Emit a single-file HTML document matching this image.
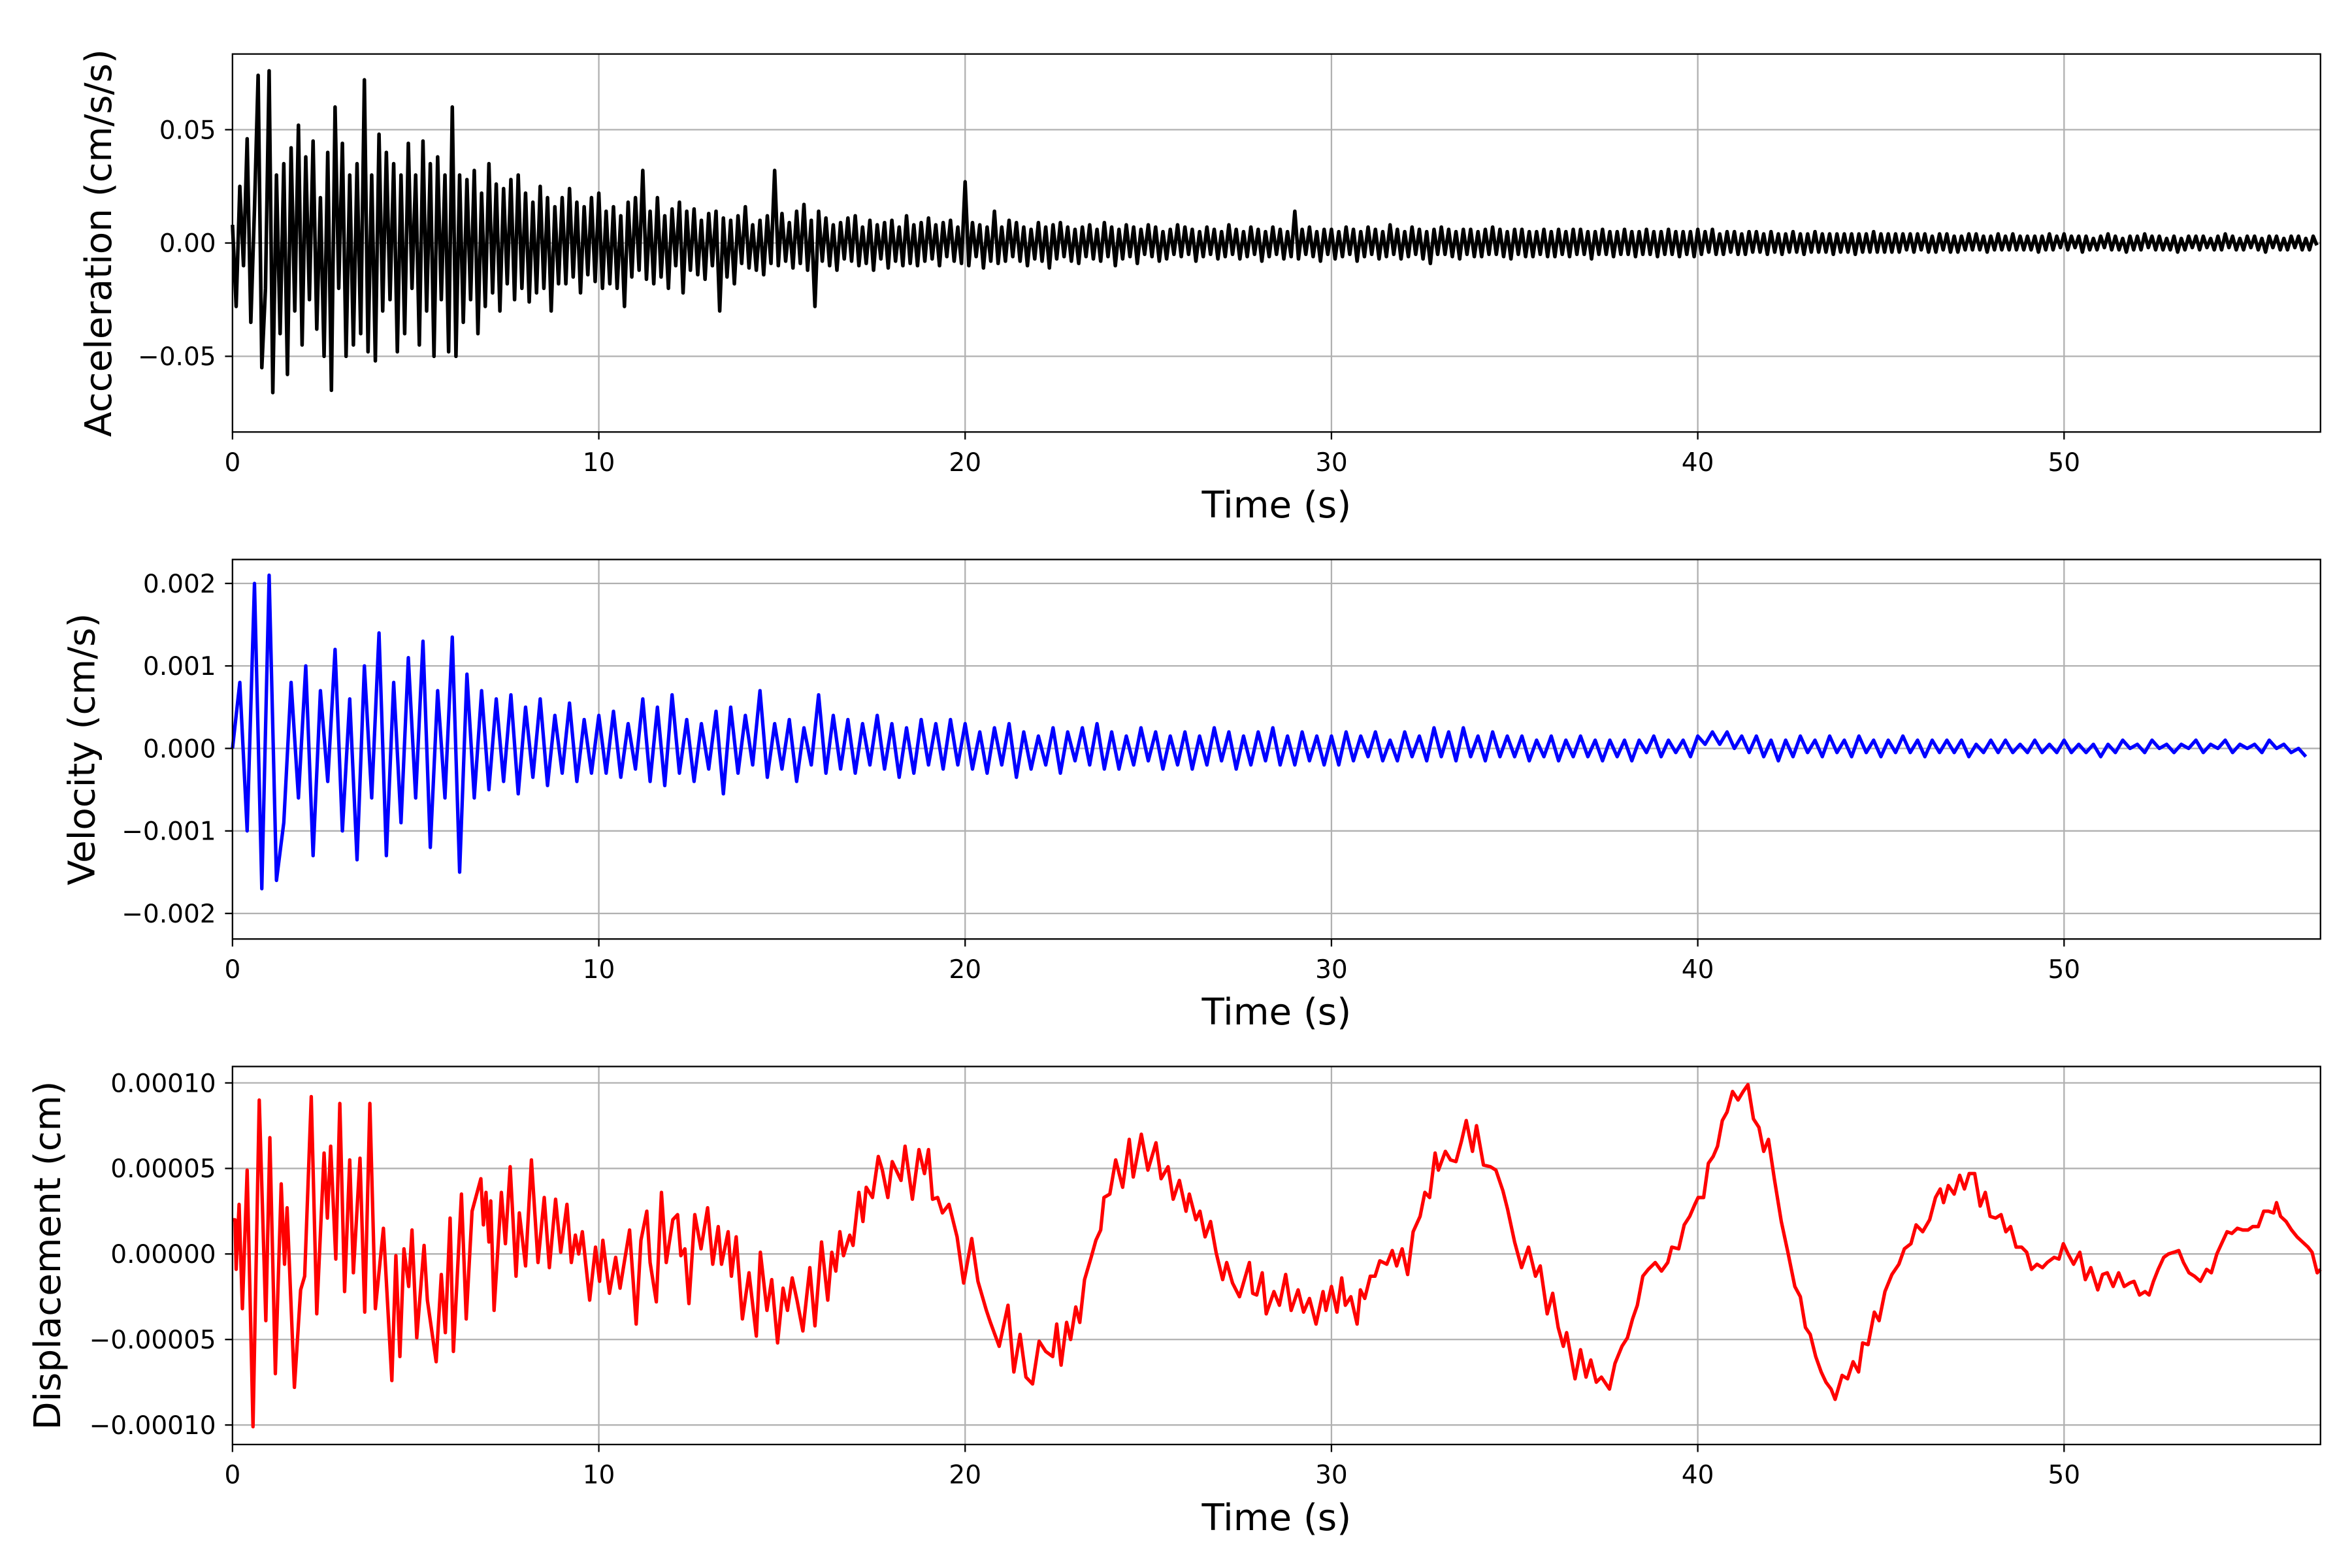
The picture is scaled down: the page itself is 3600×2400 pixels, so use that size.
<!DOCTYPE html>
<html><head><meta charset="utf-8"><style>
html,body{margin:0;padding:0;background:#fff;}
svg{display:block;}
text{font-family:"DejaVu Sans","Liberation Sans",sans-serif;}
</style></head><body>
<svg id="fig" width="3600" height="2400" viewBox="0 0 1568 1045.33" preserveAspectRatio="none" xmlns="http://www.w3.org/2000/svg"></svg>
<script>
// ---- data ----
const accDt = 0.1;
const accVals = [
8,-28,25,-10,46,-35,15,74,-55,-20,
76,-66,30,-40,35,-58,42,-30,52,-45,
38,-25,45,-38,20,-50,40,-65,60,-20,
44,-50,30,-45,35,-40,72,-48,30,-52,
48,-30,40,-25,35,-48,30,-40,44,-20,
30,-45,45,-30,35,-50,38,-25,30,-48,
60,-50,30,-35,28,-25,32,-40,22,-28,
35,-22,26,-30,24,-18,28,-25,30,-20,
22,-26,18,-22,25,-20,20,-30,16,-18,
20,-18,24,-15,18,-22,16,-14,20,-17,
22,-20,14,-18,16,-20,12,-28,18,-15,
20,-12,32,-16,14,-18,20,-15,12,-20,
15,-10,18,-22,14,-12,15,-14,10,-16,
13,-10,14,-30,11,-15,10,-18,12,-9,
16,-11,8,-12,10,-14,12,-9,32,-10,
13,-8,9,-11,14,-9,17,-12,10,-28,
14,-8,11,-10,8,-12,9,-7,11,-8,
12,-10,7,-9,10,-12,8,-7,9,-11,
10,-8,7,-10,12,-9,8,-10,9,-8,
11,-7,8,-10,9,-6,10,-8,7,-9,
27,-10,9,-6,8,-11,7,-8,14,-9,
7,-8,10,-6,9,-8,7,-10,6,-7,
9,-8,7,-11,8,-7,9,-6,7,-8,
6,-9,7,-6,8,-7,6,-8,9,-6,
7,-10,6,-7,8,-6,7,-9,6,-5,
8,-6,7,-8,5,-7,6,-5,8,-6,
7,-5,6,-8,5,-6,7,-5,6,-7,
5,-6,8,-5,6,-7,5,-6,7,-5,
6,-8,5,-6,7,-5,6,-7,5,-6,
14,-7,6,-5,7,-6,5,-8,6,-5,
6,-7,5,-6,7,-5,6,-8,5,-6,
7,-5,6,-7,5,-6,8,-5,6,-7,
5,-6,7,-5,6,-7,5,-9,6,-5,
7,-5,6,-6,5,-7,6,-5,6,-6,
5,-6,6,-5,7,-5,6,-6,5,-7,
6,-5,6,-6,5,-6,5,-5,6,-6,
5,-6,6,-5,5,-6,6,-5,6,-5,
5,-7,5,-5,6,-5,5,-6,5,-5,
6,-5,5,-6,5,-5,6,-5,5,-6,
5,-5,6,-5,5,-6,5,-5,5,-6,
6,-5,5,-4,6,-5,4,-5,5,-4,
5,-5,4,-5,5,-4,5,-4,4,-5,
5,-4,4,-5,4,-4,5,-4,4,-5,
4,-4,5,-4,4,-4,4,-5,4,-4,
4,-4,4,-5,4,-4,4,-4,5,-4,
4,-4,4,-4,4,-4,4,-3,4,-4,
4,-3,4,-4,3,-4,4,-3,4,-4,
3,-4,3,-3,4,-3,4,-3,3,-4,
3,-3,4,-3,3,-3,4,-3,3,-3,
3,-3,3,-4,3,-3,4,-3,3,-2,
4,-3,3,-2,3,-4,3,-3,2,-3,
3,-2,4,-3,3,-3,2,-4,3,-3,
3,-3,4,-2,3,-3,3,-3,2,-3,
3,-4,2,-3,3,-2,3,-3,3,-2,
2,-3,3,-3,4,-2,3,-3,2,-3,
3,-2,3,-3,2,-4,3,-2,3,-3,
2,-3,3,-2,3,-3,2,-3,3,-1];
const accScale = 0.001;

const velDt = 0.2;
const velVals = [0,80,-100,200,-170,210,-160,
-90,80,-60,100,-130,70,-40,120,-100,60,-135,100,-60,140,-130,80,-90,110,-60,130,-120,70,-60,135,-150,
90,-60,70,-50,60,-40,65,-55,50,-35,60,-45,40,-30,55,-40,35,-30,
40,-30,45,-35,30,-25,60,-40,50,-45,65,-30,35,-40,30,-25,45,-55,50,-30,40,-20,70,-35,30,-25,35,-40,25,-20,65,-30,40,-25,35,-30,30,-20,40,-25,30,-35,25,-30,35,-20,30,-25,35,-20,
30,-25,20,-30,25,-20,30,-35,20,-25,15,-20,25,-30,20,-15,25,-20,30,-25,20,-25,15,-20,25,-15,20,-25,15,-20,20,-25,15,-20,25,-15,20,-25,15,-20,20,-15,25,-20,15,-20,20,-15,15,-20,
15,-20,20,-15,15,-10,20,-15,10,-15,20,-10,15,-15,25,-10,20,-15,25,-10,15,-15,20,-10,15,-10,15,-15,10,-10,15,-15,10,-10,15,-10,10,-15,10,-10,10,-15,10,-5,15,-10,10,-5,10,-10,
15,5,20,5,20,0,15,-5,15,-10,10,-15,10,-10,15,-5,10,-10,15,-5,10,-10,15,-5,10,-10,10,-5,15,-5,10,-10,10,-5,10,-5,10,-10,5,-5,10,-5,10,-5,5,-5,10,-5,5,-5,10,-5,5,-5,5,-10,5,-5,10,0,5,-5,10,0,5,-5,5,0,10,-5,5,0,10,-5,5,0,5,-5,10,0,5,-5,0,-10];
const velScale = 0.00001;

const dispTime = [0,0.07,0.1,0.18,0.27,0.4,0.56,0.73,0.91,1.02,1.17,1.33,1.42,1.49,1.69,1.86,1.97,2.15,2.3,2.5,2.59,2.68,2.82,2.93,3.06,3.2,3.3,3.48,3.61,3.75,3.9,4.12,4.35,4.46,4.57,4.68,4.81,4.9,5.03,5.23,5.32,5.56,5.7,5.81,5.94,6.03,6.25,6.38,6.54,6.78,6.85,6.92,7.0,7.05,7.14,7.34,7.45,7.58,7.74,7.83,8.0,8.16,8.34,8.51,8.65,8.82,8.96,9.13,9.25,9.36,9.45,9.55,9.75,9.91,10.02,10.11,10.29,10.46,10.58,10.84,11.02,11.15,11.31,11.4,11.57,11.71,11.84,12.02,12.15,12.24,12.35,12.46,12.62,12.79,12.97,13.11,13.26,13.35,13.53,13.62,13.75,13.92,14.1,14.3,14.41,14.59,14.72,14.88,15.03,15.15,15.28,15.41,15.57,15.76,15.9,16.08,16.25,16.36,16.47,16.58,16.68,16.85,16.94,17.1,17.21,17.3,17.47,17.63,17.74,17.89,18.01,18.25,18.36,18.56,18.74,18.89,19.0,19.11,19.25,19.38,19.56,19.78,19.96,20.18,20.35,20.58,20.69,20.93,21.17,21.33,21.5,21.66,21.84,22.02,22.2,22.39,22.5,22.62,22.77,22.88,23.02,23.13,23.26,23.44,23.57,23.7,23.79,23.95,24.11,24.3,24.48,24.59,24.81,24.99,25.21,25.35,25.54,25.68,25.85,26.03,26.12,26.3,26.41,26.55,26.7,26.85,27.03,27.14,27.3,27.49,27.76,27.85,27.96,28.11,28.22,28.43,28.58,28.75,28.9,29.09,29.24,29.4,29.58,29.77,29.85,30.0,30.15,30.28,30.38,30.53,30.7,30.79,30.91,31.06,31.19,31.32,31.51,31.66,31.78,31.93,32.08,32.23,32.42,32.55,32.68,32.83,32.92,33.11,33.25,33.4,33.55,33.68,33.85,33.96,34.15,34.34,34.49,34.68,34.81,35.0,35.19,35.38,35.57,35.7,35.89,36.04,36.19,36.33,36.42,36.65,36.8,36.95,37.08,37.23,37.37,37.59,37.74,37.93,38.08,38.22,38.35,38.5,38.65,38.84,39.01,39.18,39.29,39.48,39.63,39.78,39.92,40.01,40.16,40.29,40.42,40.54,40.67,40.8,40.95,41.1,41.24,41.37,41.52,41.67,41.8,41.93,42.09,42.28,42.46,42.65,42.8,42.94,43.07,43.22,43.37,43.5,43.64,43.75,43.94,44.09,44.24,44.39,44.5,44.65,44.82,44.95,45.11,45.3,45.49,45.64,45.82,45.96,46.14,46.33,46.49,46.62,46.71,46.84,47.0,47.15,47.28,47.41,47.56,47.71,47.85,47.98,48.13,48.28,48.41,48.54,48.69,48.84,48.98,49.11,49.26,49.41,49.54,49.73,49.86,49.98,50.11,50.26,50.43,50.58,50.73,50.92,51.05,51.18,51.34,51.49,51.64,51.79,51.91,52.06,52.21,52.32,52.44,52.57,52.72,52.85,53.0,53.13,53.26,53.41,53.56,53.72,53.89,54.02,54.17,54.32,54.45,54.58,54.73,54.88,55.02,55.15,55.3,55.45,55.58,55.72,55.8,55.91,56.06,56.21,56.36,56.51,56.66,56.77,56.91,57.0];
const dispVals = [2.0,2.0,-0.9,2.9,-3.2,4.9,-10.1,9.0,-3.9,6.8,-7.0,4.1,-0.6,2.7,-7.8,-2.1,-1.3,9.2,-3.5,5.9,2.1,6.3,-0.3,8.8,-2.2,5.5,-1.1,5.6,-3.4,8.8,-3.2,1.5,-7.4,-0.1,-6.0,0.3,-1.9,1.4,-4.9,0.5,-2.7,-6.3,-1.2,-4.6,2.1,-5.7,3.5,-3.8,2.5,4.4,1.7,3.6,0.7,3.1,-3.3,3.6,0.6,5.1,-1.3,2.4,-0.7,5.5,-0.5,3.3,-0.8,3.2,0.1,2.9,-0.5,1.1,0,1.3,-2.7,0.4,-1.6,0.8,-2.3,-0.2,-2.0,1.4,-4.1,0.8,2.5,-0.5,-2.8,3.6,-0.5,2.0,2.3,-0.1,0.3,-2.9,2.3,0.3,2.7,-0.6,1.6,-0.6,1.3,-1.3,1.0,-3.8,-1.1,-4.8,0.1,-3.3,-1.5,-5.2,-2.0,-3.3,-1.4,-2.7,-4.5,-0.8,-4.2,0.7,-2.7,0.1,-1.0,1.3,-0.1,1.1,0.5,3.6,1.9,3.9,3.3,5.7,4.9,3.3,5.4,4.3,6.3,3.2,6.1,4.7,6.1,3.2,3.3,2.4,2.9,1.0,-1.7,0.9,-1.6,-3.3,-4.0,-5.4,-3.0,-6.9,-4.7,-7.2,-7.6,-5.1,-5.7,-6.0,-4.1,-6.5,-4.0,-5.0,-3.1,-4.0,-1.5,-0.2,0.8,1.4,3.3,3.5,5.5,3.9,6.7,4.5,7.0,4.9,6.5,4.4,5.1,3.2,4.3,2.5,3.5,2.0,2.5,1.0,1.9,0.1,-1.5,-0.5,-1.7,-2.5,-0.5,-2.3,-2.4,-1.1,-3.5,-2.2,-3.0,-1.2,-3.3,-2.1,-3.4,-2.6,-4.1,-2.2,-3.3,-1.9,-3.4,-1.4,-3.0,-2.5,-4.1,-2.1,-2.6,-1.3,-1.3,-0.4,-0.6,0.2,-0.7,0.3,-1.2,1.3,2.2,3.6,3.3,5.9,4.9,6.0,5.5,5.4,6.6,7.8,6.0,7.5,5.2,5.1,4.9,3.7,2.6,0.7,-0.8,0.4,-1.3,-0.7,-3.5,-2.3,-4.3,-5.4,-4.6,-7.3,-5.6,-7.2,-6.2,-7.5,-7.2,-7.9,-6.4,-5.4,-4.9,-3.8,-3.0,-1.3,-0.9,-0.5,-1.0,-0.5,0.4,0.3,1.7,2.2,2.9,3.3,3.3,5.3,5.7,6.3,7.8,8.3,9.5,9.0,9.5,9.9,7.9,7.4,6.0,6.7,4.4,1.9,0.1,-1.9,-2.5,-4.3,-4.7,-6.0,-6.9,-7.5,-7.9,-8.5,-7.1,-7.3,-6.3,-6.9,-5.2,-5.3,-3.4,-3.9,-2.2,-1.2,-0.6,0.3,0.6,1.7,1.3,2.0,3.3,3.8,3.0,4.0,3.5,4.6,3.8,4.7,4.7,2.8,3.6,2.2,2.1,2.3,1.3,1.6,0.4,0.4,0.1,-0.9,-0.6,-0.8,-0.5,-0.2,-0.3,0.6,0.0,-0.6,0.1,-1.5,-0.8,-2.1,-1.2,-1.1,-1.9,-1.1,-1.9,-1.7,-1.6,-2.4,-2.2,-2.4,-1.6,-0.9,-0.2,0.0,0.1,0.2,-0.5,-1.1,-1.3,-1.6,-0.9,-1.1,0.0,0.7,1.3,1.2,1.5,1.4,1.4,1.6,1.6,2.5,2.5,2.4,3.0,2.2,1.9,1.4,1.0,0.7,0.4,0.1,-1.1,-0.9];
const dispScale = 0.00001;

const xTicks = [0,10,20,30,40,50];
const accTicks = [-0.05,0,0.05];
const accTickLabels = ["\u22120.05","0.00","0.05"];
const velTicks = [-0.002,-0.001,0,0.001,0.002];
const velTickLabels = ["\u22120.002","\u22120.001","0.000","0.001","0.002"];
const dispTicks = [-0.0001,-0.00005,0,0.00005,0.0001];
const dispTickLabels = ["\u22120.00010","\u22120.00005","0.00000","0.00005","0.00010"];

// ---- drawing ----
const NS = "http://www.w3.org/2000/svg";
const svg = document.getElementById('fig');
function mk(tag, attrs, parent){
  const e = document.createElementNS(NS, tag);
  for (const k in attrs) e.setAttribute(k, attrs[k]);
  (parent||svg).appendChild(e);
  return e;
}
const X0 = 155, X1 = 1547, TMAX = 57;
function xs(t){ return X0 + (t/TMAX)*(X1-X0); }

function panel(cfg){
  const g = mk('g', {});
  
  
  const ys = v => cfg.top + (cfg.ymax - v)/(cfg.ymax - cfg.ymin)*(cfg.bottom - cfg.top);
  xTicks.forEach(t => {
    const l = mk('line', {x1:xs(t),x2:xs(t),y1:cfg.top,y2:cfg.bottom,stroke:'#b0b0b0','stroke-width':1}, g);
    
    
  });
  cfg.ticks.forEach(v => {
    const l = mk('line', {x1:X0,x2:X1,y1:ys(v),y2:ys(v),stroke:'#b0b0b0','stroke-width':1}, g);
    
    
  });
  let d = '';
  cfg.t.forEach((t,i) => {
    if (t > TMAX) return;
    d += (i ? 'L' : 'M') + xs(t).toFixed(2) + ' ' + ys(cfg.v[i]).toFixed(2);
  });
  const p = mk('path', {d:d, fill:'none', stroke:cfg.color, 'stroke-width':cfg.lw, 'stroke-linejoin':'round'}, g);
  
  
  const r = mk('rect', {x:X0,y:cfg.top,width:X1-X0,height:cfg.bottom-cfg.top,fill:'none',stroke:'#000','stroke-width':1}, g);
  
  
  xTicks.forEach(t => {
    mk('line', {x1:xs(t),x2:xs(t),y1:cfg.bottom,y2:cfg.bottom+5,stroke:'#000','stroke-width':1}, g);
    const tx = mk('text', {x:xs(t), y:cfg.bottom+26, 'text-anchor':'middle','font-size':17}, g);
    tx.textContent = t;
    
    
  });
  cfg.ticks.forEach((v,i) => {
    mk('line', {x1:X0-5,x2:X0,y1:ys(v),y2:ys(v),stroke:'#000','stroke-width':1}, g);
    const tx = mk('text', {x:X0-11, y:ys(v)+6, 'text-anchor':'end','font-size':17}, g);
    tx.textContent = cfg.labels[i];
    
    
  });
  const xl = mk('text', {x:(X0+X1)/2, y:cfg.bottom+57, 'text-anchor':'middle','font-size':24.5}, g);
  xl.textContent = 'Time (s)';
  
  
  const cy = (cfg.top+cfg.bottom)/2;
  const yl = mk('text', {x:cfg.ylx, y:cy, 'text-anchor':'middle','font-size':24.5, transform:'rotate(-90 '+cfg.ylx+' '+cy+')'}, g);
  yl.textContent = cfg.ylabel;
  
  
}

panel({name:'acceleration', top:36, bottom:288, ymin:-0.0834, ymax:0.0834,
  t: accVals.map((v,i)=>i*accDt), v: accVals.map(v=>v*accScale), color:'#000', lw:2.4,
  ticks:accTicks, labels:accTickLabels, ylabel:'Acceleration (cm/s/s)', ylx:74});
panel({name:'velocity', top:373, bottom:626, ymin:-0.00231, ymax:0.00229,
  t: velVals.map((v,i)=>i*velDt), v: velVals.map(v=>v*velScale), color:'#0000ff', lw:2.3,
  ticks:velTicks, labels:velTickLabels, ylabel:'Velocity (cm/s)', ylx:63});
panel({name:'displacement', top:711, bottom:963, ymin:-0.0001114, ymax:0.0001096,
  t: dispTime, v: dispVals.map(v=>v*dispScale), color:'#ff0000', lw:2.3,
  ticks:dispTicks, labels:dispTickLabels, ylabel:'Displacement (cm)', ylx:40});
</script>
</body></html>
